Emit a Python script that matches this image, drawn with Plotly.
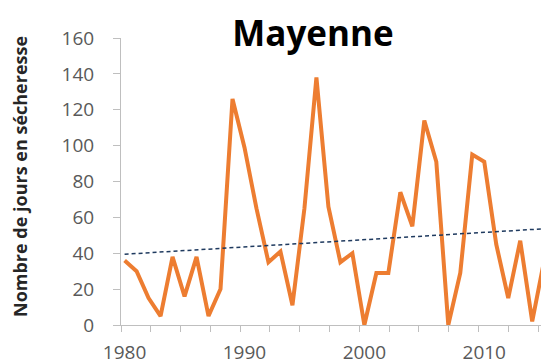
import numpy as np
import plotly.graph_objects as go

years = list(range(1980, 2016))
jours = [36, 30, 15, 5, 38, 16, 38, 5, 20, 126,
         99, 65, 35, 41, 11, 65, 138, 66, 35, 40,
         0, 29, 29, 74, 55, 114, 91, 0, 29, 95,
         91, 45, 15, 47, 2, 36]
x_labels = [1980, 1990, 2000, 2010]
y_ticks = list(range(0, 161, 20))
title_text = "Mayenne"
y_title = "Nombre de jours en sécheresse"

# linear trend (Excel-like trendline)
coef = np.polyfit(years, jours, 1)
trend_x = [years[0], years[-1]]
trend_y = [float(np.polyval(coef, v)) for v in trend_x]

axis_col = "#BFBFBF"
text_col = "#595959"
font_family = "Open Sans, Lato, sans-serif"

# the page body adds an 8px offset; margins compensate for it
fig = go.Figure()
fig.add_trace(go.Scatter(x=years, y=jours, mode="lines",
                         line=dict(color="#ED7D31", width=4),
                         showlegend=False, hoverinfo="skip"))
fig.add_trace(go.Scatter(x=trend_x, y=trend_y, mode="lines",
                         line=dict(color="#1F3A5F", width=1.5, dash="4px,3px"),
                         showlegend=False, hoverinfo="skip"))

fig.update_layout(
    template="none",
    width=549, height=361,
    margin=dict(l=113, r=8, t=30, b=44, autoexpand=False),
    paper_bgcolor="white", plot_bgcolor="white",
    title=dict(text=title_text, x=305/549, xanchor="center",
               y=1 - 26/361, yanchor="middle",
               font=dict(family=font_family, size=35, color="#000000", weight="bold")),
    font=dict(family=font_family, color=text_col),
)
fig.update_xaxes(
    automargin=False,
    range=[1979.7, 2015.4], tickvals=x_labels, ticktext=[str(v) for v in x_labels],
    ticks="", showline=True, linecolor=axis_col, linewidth=1,
    showgrid=False, zeroline=False,
    tickfont=dict(size=19, color=text_col), ticklabelstandoff=10,
    minor=dict(tick0=1979.7, dtick=2.485, ticks="outside", ticklen=6,
               tickcolor=axis_col, showgrid=False),
)
fig.update_yaxes(
    automargin=False,
    range=[0, 160], tickvals=y_ticks, ticks="outside", ticklen=7,
    tickcolor=axis_col, showline=True, linecolor=axis_col, linewidth=1,
    showgrid=False, zeroline=False,
    tickfont=dict(size=19, color=text_col), ticklabelstandoff=15,
)
fig.add_annotation(text=y_title, textangle=-90, xref="paper", yref="paper",
                   x=(20 - 121) / 428, y=(361 - 177 - 36) / 287,
                   xanchor="center", yanchor="middle", showarrow=False,
                   font=dict(family=font_family, size=18, color="#262626", weight="bold"))

fig.write_html("out.html")
